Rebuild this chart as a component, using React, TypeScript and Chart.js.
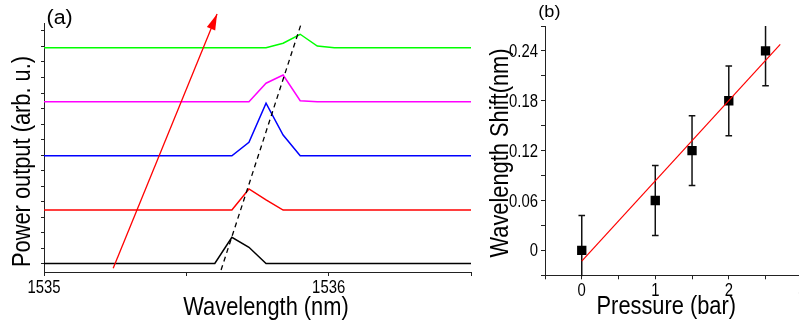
import React, { useEffect, useRef } from 'react';
import { Chart, registerables } from 'chart.js';

Chart.register(...registerables);

const FONT = '"Liberation Sans", Arial, sans-serif';

// ---------- Panel (a): spectra ----------
const wavelengths = [1535.0, 1535.6, 1535.66, 1535.72, 1535.78, 1535.84, 1535.9, 1535.96, 1536.02, 1536.5];
const spectrumBlack = [0, 0, 1.69, 1.05, 0, 0, 0, 0, 0, 0];
const spectrumRed = [3.45, 3.45, 3.45, 4.81, 4.1, 3.45, 3.45, 3.45, 3.45, 3.45];
const spectrumBlue = [6.95, 6.95, 6.95, 7.82, 10.34, 8.29, 6.95, 6.95, 6.95, 6.95];
const spectrumMagenta = [10.44, 10.44, 10.44, 10.44, 11.63, 12.16, 10.5, 10.44, 10.44, 10.44];
const spectrumGreen = [13.92, 13.92, 13.92, 13.92, 13.92, 14.21, 14.79, 14.03, 13.92, 13.92];

const arrowX = [1535.243, 1535.608];
const arrowY = [-0.31, 16.1];
const peakTrendX = [1535.622, 1535.902];
const peakTrendY = [-0.42, 15.39];

const wavelengthTicks = [1535, 1535.5, 1536, 1536.5];
const wavelengthTickLabels = ['1535', '', '1536', ''];
const powerTicks = [0, 1, 2, 3, 4, 5, 6, 7, 8, 9, 10, 11, 12, 13, 14, 15];

// ---------- Panel (b): shift vs pressure ----------
const pressure = [0, 1, 1.5, 2, 2.5];
const shift = [0, 0.06, 0.12, 0.18, 0.24];
const shiftErr = [0.042, 0.042, 0.042, 0.042, 0.042];
const fitX = [0, 2.7];
const fitY = [-0.013, 0.248];

const pressureTicks = [-0.5, 0, 0.5, 1, 1.5, 2, 2.5, 3];
const pressureTickLabels = ['', '0', '', '1', '', '2', '', '3'];
const shiftTicks = [-0.03, 0, 0.03, 0.06, 0.09, 0.12, 0.15, 0.18, 0.21, 0.24, 0.27];
const shiftTickLabels = ['', '0', '', '0.06', '', '0.12', '', '0.18', '', '0.24', ''];

const pts = (xs: number[], ys: number[]) => xs.map((x, i) => ({ x, y: ys[i] }));

function txt(
  ctx: CanvasRenderingContext2D,
  s: string,
  x: number,
  y: number,
  size: number,
  sx: number,
  align: CanvasTextAlign,
  rot = 0
) {
  ctx.save();
  ctx.translate(x, y);
  if (rot) ctx.rotate(rot);
  ctx.scale(sx, 1);
  ctx.font = `${size}px ${FONT}`;
  ctx.textAlign = align;
  ctx.textBaseline = 'alphabetic';
  ctx.fillStyle = '#000';
  ctx.fillText(s, 0, 0);
  ctx.restore();
}

const axisCommon = (tickLen: number) => ({
  border: { display: true, color: '#222', width: 1 },
  grid: { display: true, drawOnChartArea: false, drawTicks: true, tickLength: tickLen, color: '#222', lineWidth: 1 },
  ticks: { display: false },
  title: { display: false },
});

const setTicks = (vals: number[]) => (s: any) => {
  s.ticks = vals.map((v) => ({ value: v }));
};

export default function App() {
  const refA = useRef<HTMLCanvasElement>(null);
  const refB = useRef<HTMLCanvasElement>(null);

  useEffect(() => {
    const lineDs = (label: string, ys: number[], color: string) => ({
      label,
      data: pts(wavelengths, ys),
      showLine: true,
      borderColor: color,
      borderWidth: 1.5,
      pointRadius: 0,
      tension: 0,
    });

    const panelAText = {
      id: 'panelAText',
      afterDraw(chart: any) {
        const { ctx, scales } = chart;
        const x = scales.x;
        wavelengthTicks.forEach((v, i) => {
          if (wavelengthTickLabels[i]) txt(ctx, wavelengthTickLabels[i], x.getPixelForValue(v), 292.5, 17.5, 0.85, 'center');
        });
        txt(ctx, '(a)', 46.5, 24, 20, 1.07, 'left');
        txt(ctx, 'Wavelength (nm)', 266, 315, 26.3, 0.83, 'center');
        txt(ctx, 'Power output (arb. u.)', 29.5, 161.5, 26.3, 0.83, 'center', -Math.PI / 2);
      },
    };

    const arrowHead = {
      id: 'arrowHead',
      afterDatasetsDraw(chart: any) {
        const { ctx, scales } = chart;
        const x0 = scales.x.getPixelForValue(arrowX[0]);
        const y0 = scales.y.getPixelForValue(arrowY[0]);
        const x1 = scales.x.getPixelForValue(arrowX[1]);
        const y1 = scales.y.getPixelForValue(arrowY[1]);
        const ang = Math.atan2(y1 - y0, x1 - x0);
        const len = 16;
        const hw = 4.5;
        const bx = x1 - len * Math.cos(ang);
        const by = y1 - len * Math.sin(ang);
        ctx.save();
        ctx.fillStyle = '#ff0000';
        ctx.beginPath();
        ctx.moveTo(x1, y1);
        ctx.lineTo(bx + hw * Math.sin(ang), by - hw * Math.cos(ang));
        ctx.lineTo(bx - hw * Math.sin(ang), by + hw * Math.cos(ang));
        ctx.closePath();
        ctx.fill();
        ctx.restore();
      },
    };

    const chartA = new Chart(refA.current!, {
      type: 'scatter',
      data: {
        datasets: [
          {
            label: 'arrow',
            data: pts(arrowX, arrowY),
            showLine: true,
            borderColor: '#ff0000',
            borderWidth: 1.3,
            pointRadius: 0,
            clip: false,
          } as any,
          {
            label: 'peak trend',
            data: pts(peakTrendX, peakTrendY),
            showLine: true,
            borderColor: '#000',
            borderWidth: 1.3,
            borderDash: [5, 4],
            pointRadius: 0,
            clip: false,
          } as any,
          lineDs('0 bar', spectrumBlack, '#000000'),
          lineDs('1 bar', spectrumRed, '#ff0000'),
          lineDs('1.5 bar', spectrumBlue, '#0000ff'),
          lineDs('2 bar', spectrumMagenta, '#ff00ff'),
          lineDs('2.5 bar', spectrumGreen, '#00ff00'),
        ],
      },
      options: {
        responsive: false,
        animation: false,
        layout: { padding: { left: 0, top: 23, right: 9, bottom: 0 } },
        plugins: { legend: { display: false }, tooltip: { enabled: false } },
        scales: {
          x: {
            type: 'linear',
            min: 1535,
            max: 1536.5,
            ...axisCommon(4),
            afterBuildTicks: setTicks(wavelengthTicks),
            afterFit: (s: any) => {
              s.height = 51;
              s.paddingLeft = 0;
              s.paddingRight = 0;
            },
          } as any,
          y: {
            type: 'linear',
            min: -0.548,
            max: 15.516,
            ...axisCommon(3),
            afterBuildTicks: setTicks(powerTicks),
            afterFit: (s: any) => {
              s.width = 44;
              s.paddingTop = 0;
              s.paddingBottom = 0;
            },
          } as any,
        },
      },
      plugins: [arrowHead, panelAText],
    });

    const errorBars = {
      id: 'errorBars',
      beforeDatasetsDraw(chart: any) {
        const { ctx, scales, chartArea } = chart;
        ctx.save();
        ctx.beginPath();
        ctx.rect(chartArea.left, chartArea.top, chartArea.right - chartArea.left, chartArea.bottom - chartArea.top + 1);
        ctx.clip();
        ctx.strokeStyle = '#111';
        ctx.lineWidth = 1.5;
        pressure.forEach((p, i) => {
          const px = scales.x.getPixelForValue(p);
          const top = scales.y.getPixelForValue(shift[i] + shiftErr[i]);
          const bot = scales.y.getPixelForValue(shift[i] - shiftErr[i]);
          ctx.beginPath();
          ctx.moveTo(px, top);
          ctx.lineTo(px, bot);
          ctx.moveTo(px - 3.3, top);
          ctx.lineTo(px + 3.3, top);
          ctx.moveTo(px - 3.3, bot);
          ctx.lineTo(px + 3.3, bot);
          ctx.stroke();
        });
        ctx.restore();
      },
    };

    const panelBText = {
      id: 'panelBText',
      afterDraw(chart: any) {
        const { ctx, scales } = chart;
        pressureTicks.forEach((v, i) => {
          if (pressureTickLabels[i]) txt(ctx, pressureTickLabels[i], scales.x.getPixelForValue(v), 296, 17.5, 0.85, 'center');
        });
        shiftTicks.forEach((v, i) => {
          if (shiftTickLabels[i]) txt(ctx, shiftTickLabels[i], 58, scales.y.getPixelForValue(v) + 6, 17.5, 0.85, 'right');
        });
        txt(ctx, '(b)', 58.3, 16.6, 16.5, 1.1, 'left');
        txt(ctx, 'Pressure (bar)', 186.3, 314, 26.3, 0.83, 'center');
        txt(ctx, 'Wavelength Shift(nm)', 28, 153, 26.3, 0.83, 'center', -Math.PI / 2);
      },
    };

    const chartB = new Chart(refB.current!, {
      type: 'scatter',
      data: {
        datasets: [
          {
            label: 'linear fit',
            data: pts(fitX, fitY),
            showLine: true,
            borderColor: '#ff0000',
            borderWidth: 1.2,
            pointRadius: 0,
          },
          {
            label: 'wavelength shift',
            data: pts(pressure, shift),
            pointStyle: 'rect',
            pointRadius: 6.6,
            backgroundColor: '#000',
            borderWidth: 0,
            showLine: false,
          },
        ],
      },
      options: {
        responsive: false,
        animation: false,
        layout: { padding: { left: 0, top: 26, right: 7.7, bottom: 0 } },
        plugins: { legend: { display: false }, tooltip: { enabled: false } },
        scales: {
          x: {
            type: 'linear',
            min: -0.5,
            max: 3,
            ...axisCommon(4),
            afterBuildTicks: setTicks(pressureTicks),
            afterFit: (s: any) => {
              s.height = 47.7;
              s.paddingLeft = 0;
              s.paddingRight = 0;
            },
          } as any,
          y: {
            type: 'linear',
            min: -0.03,
            max: 0.27,
            ...axisCommon(4),
            afterBuildTicks: setTicks(shiftTicks),
            afterFit: (s: any) => {
              s.width = 65;
              s.paddingTop = 0;
              s.paddingBottom = 0;
            },
          } as any,
        },
      },
      plugins: [errorBars, panelBText],
    });

    return () => {
      chartA.destroy();
      chartB.destroy();
    };
  }, []);

  return (
    <div
      style={{
        position: 'absolute',
        left: 0,
        top: 0,
        width: 799,
        height: 323,
        overflow: 'hidden',
        background: '#fff',
      }}
    >
      <canvas ref={refA} width={480} height={323} style={{ position: 'absolute', left: 0, top: 0, display: 'block' }} />
      <canvas ref={refB} width={330} height={323} style={{ position: 'absolute', left: 480, top: 0, display: 'block' }} />
    </div>
  );
}
